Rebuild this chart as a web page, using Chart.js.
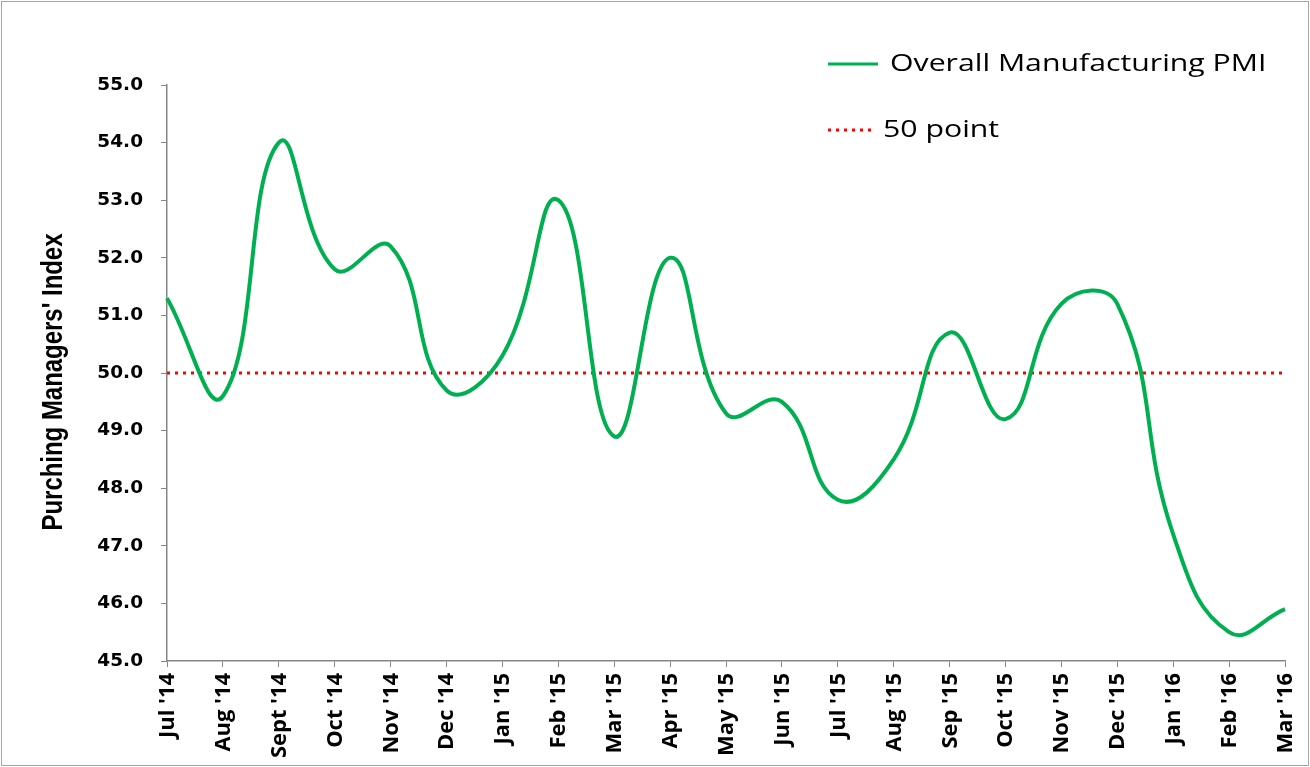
<!DOCTYPE html>
<html>
<head>
<meta charset="utf-8">
<script src="https://cdn.jsdelivr.net/npm/chart.js@4.4.0/dist/chart.umd.min.js"></script>
<style>
  html, body { margin: 0; padding: 0; background: #fff; }
  #wrap { width: 1310px; height: 767px; position: relative; }
</style>
</head>
<body>
<div id="wrap"><canvas id="pmiChart"></canvas></div>
<script>
// chart data
const months = ["Jul '14", "Aug '14", "Sept '14", "Oct '14", "Nov '14", "Dec '14", "Jan '15", "Feb '15",
  "Mar '15", "Apr '15", "May '15", "Jun '15", "Jul '15", "Aug '15", "Sep '15", "Oct '15", "Nov '15",
  "Dec '15", "Jan '16", "Feb '16", "Mar '16"];
const pmiValues = [51.3, 49.6, 54.0, 51.8, 52.2, 49.7, 50.3, 53.0, 48.9, 52.0, 49.3, 49.5, 47.8, 48.5,
  50.7, 49.2, 51.2, 51.2, 47.2, 45.5, 45.9];
const thresholdValue = 50;
const yMin = 45, yMax = 55, yStep = 1;
const seriesNames = ['Overall Manufacturing PMI', '50 point'];
const yTitle = "Purching Managers' Index";

// frame, legend, rotated month labels and axis title drawn by hand (Excel look)
const excelBits = {
    id: 'excelBits',
    beforeDraw(chart) {
        const ctx = chart.ctx;
        ctx.save();
        ctx.fillStyle = '#fff';
        ctx.fillRect(0, 0, chart.width, chart.height);
        ctx.strokeStyle = '#a6a6a6';
        ctx.lineWidth = 1;
        ctx.strokeRect(1.5, 1.5, chart.width - 3, chart.height - 3);
        ctx.restore();
    },
    afterDraw(chart) {
        const ctx = chart.ctx;
        const area = chart.chartArea;
        const xScale = chart.scales.x;

        // legend
        const x0 = area.right - 457;
        ctx.save();
        ctx.font = '24px "Open Sans"';
        ctx.fillStyle = '#000';
        ctx.textBaseline = 'middle';
        chart.data.datasets.forEach((ds, i) => {
            const y = area.top - 21 + i * 66;
            ctx.beginPath();
            ctx.strokeStyle = ds.borderColor;
            ctx.lineWidth = 3;
            ctx.setLineDash(ds.borderDash || []);
            ctx.moveTo(x0, y);
            ctx.lineTo(x0 + (i === 0 ? 50 : 47), y);
            ctx.stroke();
            ctx.setLineDash([]);
            ctx.save();
            ctx.translate(x0 + (i === 0 ? 62 : 55), y);
            ctx.scale(1.26, 1);
            ctx.fillText(ds.label, 0, 0);
            ctx.restore();
        });
        ctx.restore();

        // month labels, stretched along the text to Excel's Calibri length
        ctx.save();
        ctx.font = 'bold 21px "Open Sans"';
        ctx.fillStyle = '#000';
        ctx.textAlign = 'right';
        ctx.textBaseline = 'middle';
        const kx = 85 / ctx.measureText("Sept '14").width;
        chart.data.labels.forEach((lbl, i) => {
            ctx.save();
            ctx.translate(xScale.getPixelForTick(i) + 1, xScale.top + 12);
            ctx.rotate(-Math.PI / 2);
            ctx.scale(kx, 1);
            ctx.fillText(lbl, 0, 0);
            ctx.restore();
        });
        ctx.restore();

        // y axis title
        ctx.save();
        ctx.font = 'bold 30px "Liberation Sans"';
        ctx.fillStyle = '#000';
        ctx.textAlign = 'center';
        ctx.textBaseline = 'middle';
        ctx.translate(54, (area.top + area.bottom) / 2 + 9);
        ctx.rotate(-Math.PI / 2);
        const w = ctx.measureText(yTitle).width;
        ctx.scale(297 / w, 1);
        ctx.fillText(yTitle, 0, 0);
        ctx.restore();
    }
};

const ctx = document.getElementById('pmiChart');

new Chart(ctx, {
    type: 'line',
    data: {
        labels: months,
        datasets: [{
            label: seriesNames[0],
            data: pmiValues,
            borderColor: '#00b050',
            borderWidth: 4,
            pointRadius: 0,
            tension: 0.45,
            fill: false
        }, {
            label: seriesNames[1],
            data: months.map(() => thresholdValue),
            borderColor: '#ff0000',
            borderWidth: 3,
            borderDash: [3, 5],
            pointRadius: 0,
            tension: 0,
            fill: false
        }]
    },
    options: {
        responsive: true,
        maintainAspectRatio: false,
        animation: false,
        layout: {
            padding: { top: 85, right: 25, bottom: 8, left: 4 }
        },
        plugins: {
            legend: { display: false },
            tooltip: { enabled: false }
        },
        scales: {
            x: {
                offset: false,
                grid: {
                    display: true,
                    drawOnChartArea: false,
                    color: '#868686',
                    tickLength: 6
                },
                border: { display: true, color: '#868686', width: 1.5 },
                ticks: { display: false, autoSkip: false },
                afterFit(scale) { scale.height = 767 - 8 - 661; }
            },
            y: {
                min: yMin,
                max: yMax,
                grid: {
                    display: true,
                    drawOnChartArea: false,
                    color: '#868686',
                    tickLength: 6
                },
                border: { display: true, color: '#868686', width: 1.5 },
                ticks: {
                    stepSize: yStep,
                    padding: 18,
                    color: '#000',
                    font: { family: '"DejaVu Sans"', size: 18.5, weight: 'bold' },
                    callback: (v) => Number(v).toFixed(1)
                },
                afterFit(scale) { scale.width = 167 - 4; }
            }
        }
    },
    plugins: [excelBits]
});
</script>
</body>
</html>
